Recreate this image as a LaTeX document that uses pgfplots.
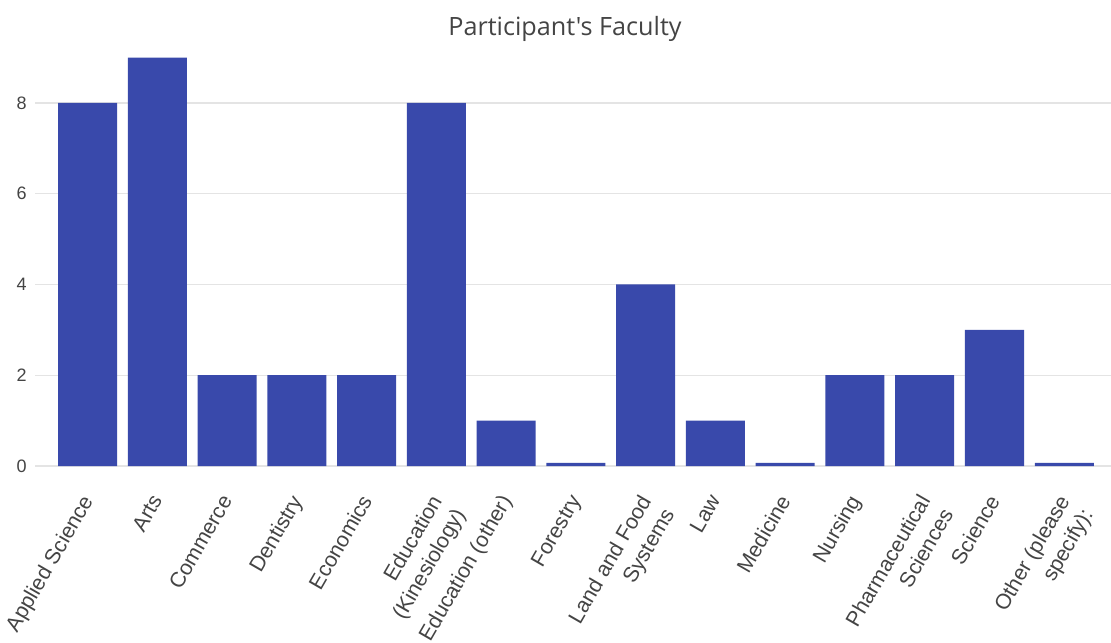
\documentclass[border=0pt]{standalone}
\usepackage{pgfplots}
\pgfplotsset{compat=1.18}
\usepackage{fontspec}
\setmainfont{Liberation Sans}
\newfontfamily\titlefont{Open Sans}
\definecolor{barblue}{HTML}{3949AB}
\definecolor{txt}{HTML}{444444}
\definecolor{gridc}{HTML}{E4E4E4}
\begin{document}
\begin{tikzpicture}
\begin{axis}[
  at={(0,0)}, anchor=south west,
  scale only axis,
  width=807pt, height=306.3pt,
  xmin=-0.753, xmax=14.67,
  ymin=0, ymax=9,
  ytick={0,2,4,6,8},
  xtick={0,...,14},
  xticklabels={Applied Science,Arts,Commerce,Dentistry,Economics,{Education\\(Kinesiology)},Education (other),Forestry,{Land and Food\\Systems},Law,Medicine,Nursing,{Pharmaceutical\\Sciences},Science,{Other (please\\specify):}},
  axis line style={draw=none},
  major tick length=0pt,
  ymajorgrids,
  grid style={color=gridc, line width=0.8pt},
  /pgf/number format/assume math mode=true,
  yticklabel style={font=\fontsize{13.5}{16}\selectfont, text=txt, inner sep=0pt, xshift=-6pt},
  xticklabel style={xshift=-5.5pt, yshift=-20pt, rotate=60, anchor=north east, font=\fontsize{16}{20}\selectfont, text=txt, align=right, inner sep=0pt},
  title={\titlefont Participant's Faculty},
  title style={font=\fontsize{18.9}{22}\selectfont, text=txt, at={(axis description cs:0.5,1)}, anchor=center, yshift=15.5pt, xshift=-6pt},
]
\addplot[ybar, bar width=0.846, fill=barblue, draw=none] coordinates {
  (0,8) (1,9) (2,2) (3,2) (4,2) (5,8) (6,1) (7,0.07) (8,4) (9,1) (10,0.07) (11,2) (12,2) (13,3) (14,0.07)
};
\end{axis}
\pgfresetboundingbox
\path[use as bounding box] (-26.25pt,-132.75pt) rectangle (807pt,349.5pt);
\end{tikzpicture}
\end{document}
